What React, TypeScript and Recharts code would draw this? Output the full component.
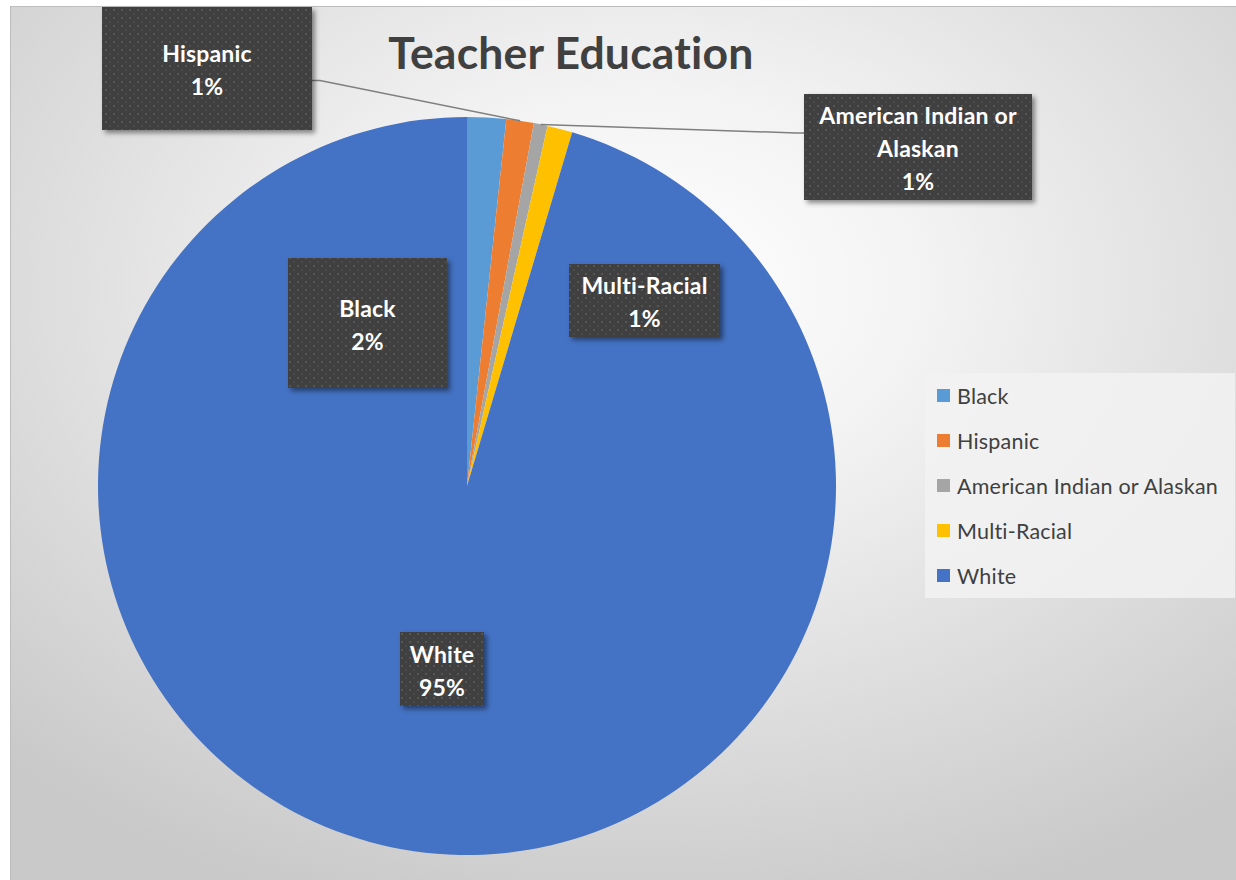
import React from 'react';
import { PieChart, Pie, Cell, Legend } from 'recharts';

const categories = ['Black', 'Hispanic', 'American Indian or Alaskan', 'Multi-Racial', 'White'];
const shares = [1.7, 1.2, 0.6, 1.1, 95.4];
const colors = ['#5B9BD5', '#ED7D31', '#A5A5A5', '#FFC000', '#4472C4'];
const title = 'Teacher Education';

const data = categories.map((name, i) => ({ name, value: shares[i] }));

// label box placement relative to pie center (pixels) and size
const boxes = [
  { dx: -99.5, dy: -163, w: 159, h: 130, leader: false },
  { dx: -260, dy: -417.5, w: 210, h: 123, leader: true },
  { dx: 451, dy: -339, w: 228, h: 106, leader: true },
  { dx: 177.5, dy: -185.5, w: 151, h: 73, leader: false },
  { dx: -25, dy: 183, w: 84, h: 74, leader: false },
];

const FONT = 'Lato, "Open Sans", sans-serif';
const noLig = { fontVariantLigatures: 'none' as const, fontFeatureSettings: '"liga" 0, "clig" 0', letterSpacing: '0.2px' };

function wrap(name: string, max: number): string[] {
  const words = name.split(' ');
  const lines: string[] = [];
  let cur = '';
  for (const w of words) {
    const next = cur ? cur + ' ' + w : w;
    if (next.length > max && cur) {
      lines.push(cur);
      cur = w;
    } else cur = next;
  }
  if (cur) lines.push(cur);
  return lines;
}

const RAD = Math.PI / 180;

function renderLabel(props: any) {
  const { cx, cy, midAngle, outerRadius, index, name, percent } = props;
  const b = boxes[index];
  const bx = cx + b.dx;
  const by = cy + b.dy;
  const lines = [...wrap(name, 18), `${Math.round(percent * 100)}%`];
  const lh = 33;
  const startY = by + 1 - ((lines.length - 1) * lh) / 2;
  let leader = null;
  if (b.leader) {
    const px = cx + outerRadius * Math.cos(-midAngle * RAD);
    const py = cy + outerRadius * Math.sin(-midAngle * RAD);
    if (b.dx < 0) {
      const ex = bx + b.w / 2;
      const ey = by + 12;
      leader = <polyline points={`${ex},${ey} ${ex + 8},${ey} ${px},${py}`} fill="none" stroke="#7f7f7f" strokeWidth={1.5} />;
    } else {
      const ex = bx - b.w / 2;
      const ey = by - 14;
      leader = <polyline points={`${ex},${ey} ${ex - 8},${ey} ${px},${py}`} fill="none" stroke="#7f7f7f" strokeWidth={1.5} />;
    }
  }
  return (
    <g key={`lbl-${index}`}>
      {leader}
      <rect x={bx - b.w / 2} y={by - b.h / 2} width={b.w} height={b.h} fill="url(#dots)" filter="url(#shadow)" />
      {lines.map((t, i) => (
        <text key={i} x={bx} y={startY + i * lh} textAnchor="middle" dominantBaseline="central" fill="#ffffff" fontFamily={FONT} fontWeight={700} fontSize={23} style={noLig}>
          {t}
        </text>
      ))}
    </g>
  );
}

function LegendContent(props: any) {
  const payload = [...(props.payload || [])].sort(
    (a: any, b: any) => categories.indexOf(a.value) - categories.indexOf(b.value)
  );
  return (
    <div style={{ width: 310, height: 225, background: 'rgba(242,242,242,0.85)', fontFamily: FONT, boxSizing: 'border-box', paddingTop: 0, ...noLig }}>
      {payload.map((p: any, i: number) => (
        <div key={i} style={{ display: 'flex', alignItems: 'center', height: 45, paddingLeft: 12 }}>
          <span style={{ display: 'inline-block', width: 13, height: 13, background: p.color, marginRight: 7 }} />
          <span style={{ fontSize: 21.5, color: '#404040', lineHeight: '22px' }}>{p.value}</span>
        </div>
      ))}
    </div>
  );
}

export default function App() {
  return (
    <div style={{ position: 'absolute', left: 0, top: 0, width: 1236, height: 880, background: '#ffffff', overflow: 'hidden' }}>
      <div
        style={{
          position: 'absolute',
          left: 10,
          top: 6,
          width: 1226,
          height: 874,
          boxSizing: 'border-box',
          borderLeft: '1px solid #bdbdbd',
          borderTop: '1px solid #bdbdbd',
          background: 'radial-gradient(ellipse 75% 75% at 52% 32%, #ffffff 0%, #f3f3f3 30%, #dedede 65%, #c9c9c9 100%)',
        }}
      />
      <div style={{ position: 'absolute', left: 0, top: 0 }}>
        <PieChart width={1236} height={880} margin={{ top: 0, right: 0, bottom: 0, left: 0 }}>
          <defs>
            <pattern id="dots" width="8" height="8" patternUnits="userSpaceOnUse">
              <rect width="8" height="8" fill="#404040" />
              <rect x="1" y="1" width="2" height="2" fill="#575757" />
              <rect x="5" y="5" width="2" height="2" fill="#4c4c4c" />
            </pattern>
            <filter id="shadow" x="-10%" y="-10%" width="130%" height="130%">
              <feDropShadow dx="3" dy="3" stdDeviation="2.5" floodColor="#000" floodOpacity="0.45" />
            </filter>
          </defs>
          <text x={571} y={51} textAnchor="middle" dominantBaseline="central" fill="#404040" fontFamily={FONT} fontWeight={700} fontSize={44.5} style={noLig}>
            {title}
          </text>
          <Pie
            data={data}
            dataKey="value"
            nameKey="name"
            cx={467}
            cy={486}
            outerRadius={369}
            startAngle={90}
            endAngle={-270}
            stroke="none"
            isAnimationActive={false}
            labelLine={false}
            label={renderLabel}
          >
            {data.map((d, i) => (
              <Cell key={d.name} fill={colors[i]} />
            ))}
          </Pie>
          <Legend
            layout="vertical"
            verticalAlign="middle"
            align="right"
            wrapperStyle={{ left: 925, top: 373, width: 310, right: 'auto' }}
            content={<LegendContent />}
          />
        </PieChart>
      </div>
    </div>
  );
}
